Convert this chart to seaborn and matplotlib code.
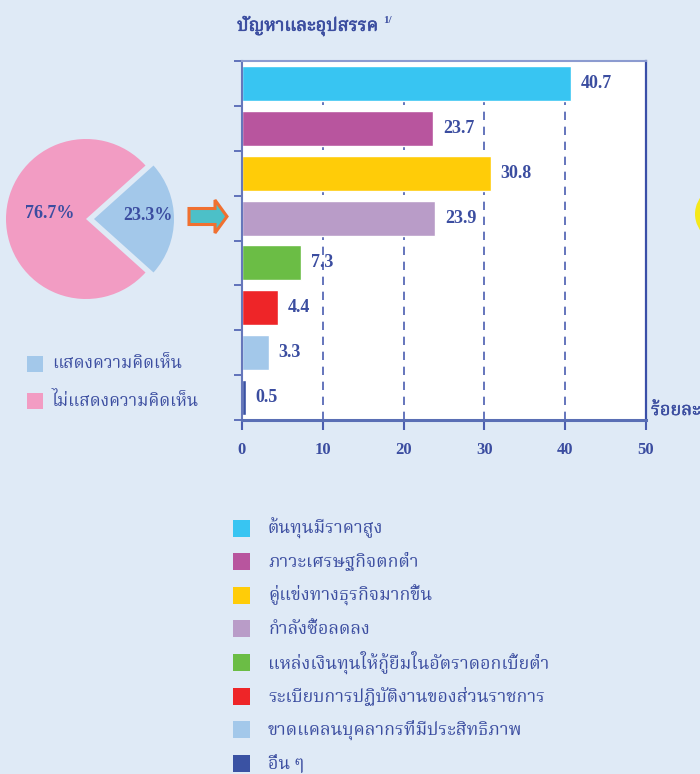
import numpy as np
import pandas as pd
import matplotlib
matplotlib.use("Agg")
import matplotlib.pyplot as plt
import matplotlib.patheffects as pe
import seaborn as sns
from matplotlib import font_manager as fm
from matplotlib.patches import Rectangle, FancyArrow, Ellipse

# ---------------- data ----------------
title = "ปัญหาและอุปสรรค"
title_note = "1/"
categories = [
    "ต้นทุนมีราคาสูง",
    "ภาวะเศรษฐกิจตกต่ำ",
    "คู่แข่งทางธุรกิจมากขึ้น",
    "กำลังซื้อลดลง",
    "แหล่งเงินทุนให้กู้ยืมในอัตราดอกเบี้ยต่ำ",
    "ระเบียบการปฏิบัติงานของส่วนราชการ",
    "ขาดแคลนบุคลากรที่มีประสิทธิภาพ",
    "อื่น ๆ",
]
values = [40.7, 23.7, 30.8, 23.9, 7.3, 4.4, 3.3, 0.5]
bar_colors = ["#38c5f2", "#b8559e", "#ffcc08", "#b99cc8",
              "#6bbd45", "#ee2528", "#a3c8ea", "#3a52a3"]
x_ticks = [0, 10, 20, 30, 40, 50]
x_unit = "ร้อยละ"
pie_labels = ["แสดงความคิดเห็น", "ไม่แสดงความคิดเห็น"]
pie_values = [23.3, 76.7]
pie_colors = ["#a3c8ea", "#f29cc3"]

# ---------------- fonts ----------------
def find_thai_font():
    try:
        from fontTools.ttLib import TTFont
    except Exception:
        return None
    found = {}
    for f in fm.fontManager.ttflist:
        try:
            tt = TTFont(f.fname, fontNumber=0, lazy=True)
            cmap = tt.getBestCmap()
            if cmap and 0x0E01 in cmap and 0x0E49 in cmap:
                found[f.name] = f
        except Exception:
            pass
    prefs = ["Norasi", "Kinnari", "Noto Serif Thai", "TH Sarabun New",
             "Noto Sans Thai Looped", "Noto Sans Thai", "Loma", "Garuda",
             "Tlwg Typo", "Waree", "Laksaman", "Sawasdee", "Umpush"]
    for p in prefs:
        if p in found:
            return p
    if found:
        return sorted(found)[0]
    return None

thai = find_thai_font()
families = ([thai] if thai else []) + ["Liberation Serif", "DejaVu Sans"]
num_font = ["Liberation Serif", "DejaVu Serif"]

sns.set_theme(style="white")
plt.rcParams["font.family"] = families

BG = "#dfeaf6"
TXT = "#3b4da0"
AX = "#4a5db0"
bold_fx = [pe.withStroke(linewidth=0.5, foreground=TXT)]

fig = plt.figure(figsize=(7.0, 7.74), dpi=100, facecolor=BG)

# background canvas in pixel units
bg = fig.add_axes([0, 0, 1, 1], zorder=-5)
bg.set_xlim(0, 700)
bg.set_ylim(774, 0)
bg.axis("off")
bg.set_facecolor(BG)

# ---------------- bar chart ----------------
W, H = 700.0, 774.0
L, R, T, B = 242, 646, 61, 420
ax = fig.add_axes([L / W, 1 - B / H, (R - L) / W, (B - T) / H])
ax.set_facecolor("white")

df = pd.DataFrame({"cat": categories, "val": values})
sns.barplot(data=df, y="cat", x="val", hue="cat", palette=bar_colors,
            orient="h", width=0.78, saturation=1, legend=False, ax=ax)

for cont in ax.containers:
    ax.bar_label(cont, fmt="%.1f", padding=7, color=TXT, fontsize=13,
                 fontweight="bold", family=num_font)

ax.set_xlim(0, 50)
ax.set_ylim(len(categories) - 0.5, -0.5)
ax.set_xticks(x_ticks)
ax.set_xticklabels([str(t) for t in x_ticks], family=num_font,
                   fontweight="bold", fontsize=12, color=TXT)
ax.set_yticks(np.arange(-0.5, len(categories), 1.0))
ax.set_yticklabels([])
ax.set_xlabel("")
ax.set_ylabel("")
ax.tick_params(axis="x", direction="out", length=7, width=1.5, color=AX, pad=9,
               bottom=True)
ax.tick_params(axis="y", direction="out", length=6, width=1.2, color=AX, left=True)
ax.set_axisbelow(True)
ax.xaxis.grid(True, linestyle=(0, (5, 4)), color=AX, linewidth=1.2)
ax.yaxis.grid(False)
for side, col, lw in [("left", "#6677bb", 1.5), ("bottom", "#5a6fb5", 2.2),
                      ("right", "#3a4fa8", 1.6), ("top", "#8c9bd0", 1.5)]:
    ax.spines[side].set_visible(True)
    ax.spines[side].set_color(col)
    ax.spines[side].set_linewidth(lw)

# title
t = fig.text(237 / W, 1 - 26 / H, title, fontsize=13, fontweight="bold",
             color=TXT, ha="left", va="center", path_effects=bold_fx)
fig.canvas.draw()
bg.annotate(title_note, xy=(1, 1), xycoords=t, xytext=(4, 0),
            textcoords="offset points", fontsize=8, fontweight="bold",
            color=TXT, family=num_font, ha="left", va="top")

# unit
bg.text(651, 410, x_unit, fontsize=13, fontweight="bold", color=TXT,
        ha="left", va="center", path_effects=[pe.withStroke(linewidth=0.3, foreground=TXT)])

# ---------------- pie ----------------
cx, cy, r = 86, 219, 80
size = 200
pax = fig.add_axes([(cx - size / 2) / W, 1 - (cy + size / 2) / H, size / W, size / H])
start = -pie_values[0] * 3.6 / 2
wedges, texts, autotexts = pax.pie(
    pie_values, colors=pie_colors, startangle=start, counterclock=True,
    explode=[0.1, 0], autopct="%.1f%%", radius=1.0,
    wedgeprops=dict(linewidth=0),
    textprops=dict(color=TXT, fontsize=13, fontweight="bold", family=num_font))
pax.set_xlim(-size / 2 / r, size / 2 / r)
pax.set_ylim(-size / 2 / r, size / 2 / r)
pax.set_aspect("equal")
pax.axis("off")
autotexts[0].set_position((0.77, 0.04))
autotexts[1].set_position((-0.45, 0.07))

# pie legend
for i, (lab, col) in enumerate(zip(pie_labels, pie_colors)):
    yc = 364 + i * 37
    bg.add_patch(Rectangle((27, yc - 8), 16, 16, color=col, lw=0))
    bg.text(52, yc, lab, fontsize=12.3, color=TXT, ha="left", va="center")

# arrow
bg.add_patch(FancyArrow(189, 216.5, 26, 0, width=16, head_width=33,
                        head_length=12, length_includes_head=False,
                        facecolor="#4cc0c8", edgecolor="#f07030", linewidth=2.2))

# partial yellow circle at right edge
bg.add_patch(Ellipse((735, 214), 80, 66, facecolor="#f5e81a", lw=0))

# bar legend
for i, (lab, col) in enumerate(zip(categories, bar_colors)):
    yc = 528 + i * 33.6
    bg.add_patch(Rectangle((233, yc - 8.5), 17, 17, color=col, lw=0))
    bg.text(268, yc, lab, fontsize=12.8, color=TXT, ha="left", va="center")

fig.savefig("out.png", dpi=100, facecolor=BG)
